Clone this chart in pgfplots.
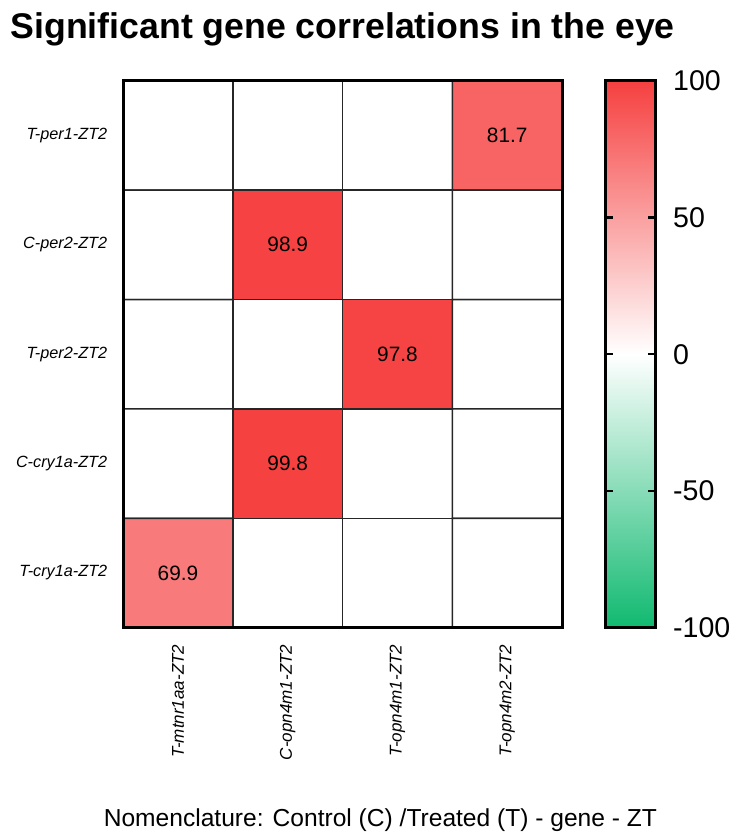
\documentclass[border=0pt]{standalone}
\usepackage{fontspec}
\setmainfont{Liberation Sans}
\usepackage{pgfplots}
\usepackage{pgfplotstable}
\pgfplotsset{compat=1.18}

% full correlation grid: columns 0..3, rows 0..4 (top to bottom)
\pgfplotstableread{
x y c
0 0 0
1 0 0
2 0 0
3 0 81.7
0 1 0
1 1 98.9
2 1 0
3 1 0
0 2 0
1 2 0
2 2 97.8
3 2 0
0 3 0
1 3 99.8
2 3 0
3 3 0
0 4 69.9
1 4 0
2 4 0
3 4 0
}\corrgrid

% significant cells only, for the printed values
\pgfplotstableread{
x y v
3 0 81.7
1 1 98.9
2 2 97.8
1 3 99.8
0 4 69.9
}\signif

% colour scale strip
\pgfplotstableread{
x y c
0 -100 -100
1 -100 -100
0 -50 -50
1 -50 -50
0 0 0
1 0 0
0 50 50
1 50 50
0 100 100
1 100 100
}\scalestrip

\pgfplotsset{
  corrmap/.style={
    colormap={rg}{rgb255(0)=(16,185,112) rgb255(1)=(255,255,255) rgb255(2)=(246,64,64)},
    point meta min=-100, point meta max=100,
  },
}

\begin{document}
\begin{tikzpicture}
\begin{axis}[
  name=main,
  corrmap,
  scale only axis,
  width=221.5pt, height=276pt,
  xmin=-0.5, xmax=3.5, ymin=-0.5, ymax=4.5,
  y dir=reverse,
  xtick={0,1,2,3}, ytick={0,1,2,3,4},
  xticklabels={T-mtnr1aa-ZT2, C-opn4m1-ZT2, T-opn4m1-ZT2, T-opn4m2-ZT2},
  yticklabels={T-per1-ZT2, C-per2-ZT2, T-per2-ZT2, C-cry1a-ZT2, T-cry1a-ZT2},
  major tick length=0pt,
  xticklabel style={font=\fontsize{8.6}{10}\selectfont\itshape, rotate=90, anchor=east},
  yticklabel style={font=\fontsize{8.2}{10}\selectfont\itshape},
  xticklabel shift=5pt,
  yticklabel shift=4.5pt,
  axis line style={line width=1.6pt},
  axis on top,
  title={\fontsize{18}{21}\selectfont\bfseries Significant gene correlations in the eye},
  title style={at={(0.5,1)}, anchor=south, yshift=8pt},
]
\addplot[matrix plot*, mesh/cols=4, point meta=explicit, draw=black!85, line width=0.75pt]
  table[x=x, y=y, meta=c] {\corrgrid};
\addplot[draw=none, mark=none, nodes near coords, point meta=explicit symbolic,
  nodes near coords align=center,
  every node near coord/.style={font=\fontsize{10.5}{12}\selectfont, anchor=center, black}]
  table[x=x, y=y, meta=v] {\signif};
\end{axis}

% colour scale
\begin{axis}[
  corrmap,
  at={(main.north east)}, anchor=north west, xshift=22pt,
  scale only axis,
  width=25pt, height=276pt,
  xmin=0, xmax=1, ymin=-100, ymax=100,
  enlargelimits=false,
  xtick=\empty,
  ytick={-100,-50,0,50,100},
  ytick pos=both,
  yticklabel pos=right,
  tick align=inside,
  major tick length=3.5pt,
  tick style={line width=1.2pt, black},
  axis line style={line width=1.6pt},
  axis on top,
  yticklabel style={font=\fontsize{14.4}{16}\selectfont},
  yticklabel shift=5.5pt,
  /pgf/number format/assume math mode=true,
]
\addplot[surf, shader=interp, mesh/cols=2, point meta=explicit]
  table[x=x, y=y, meta=c] {\scalestrip};
\end{axis}

\node[font=\fontsize{12.4}{14}\selectfont, anchor=center]
  at ([xshift=129.8pt, yshift=-97pt]main.south west)
  {Nomenclature: Control (C) /Treated (T) - gene - ZT};

% a little white margin above and to the left of the title
\path ([xshift=-2pt, yshift=3pt]current bounding box.north west);
\end{tikzpicture}
\end{document}
